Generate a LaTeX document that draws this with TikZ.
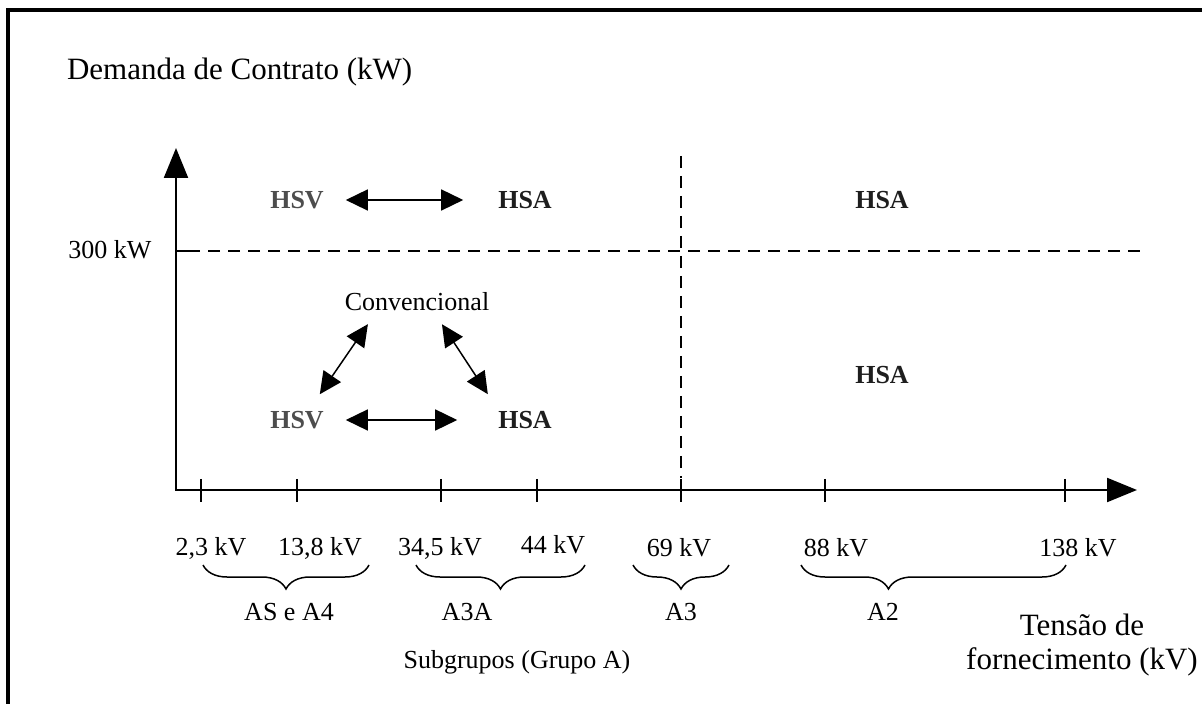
\documentclass[tikz,border=0pt]{standalone}
\usepackage{fontspec}
\setmainfont{Liberation Serif}
\usetikzlibrary{arrows.meta,decorations.pathreplacing}
\definecolor{hsvgray}{HTML}{4D4D4D}
\definecolor{hsadark}{HTML}{1E1E1E}

\begin{document}
\begin{tikzpicture}[x=0.5pt,y=-0.5pt,
  lbl/.style={font=\fontsize{13}{15}\selectfont},
  big/.style={font=\fontsize{15.5}{18}\selectfont},
  hsv/.style={font=\fontsize{13}{15}\selectfont\bfseries, text=hsvgray},
  hsa/.style={font=\fontsize{13}{15}\selectfont\bfseries, text=hsadark},
  twoway/.style={{Triangle[length=11pt,width=10.5pt]}-{Triangle[length=11pt,width=10.5pt]}, line width=0.75pt},
  guide/.style={dash pattern=on 6pt off 4pt, line width=1pt},
  brc/.style={decorate, decoration={brace, mirror, amplitude=12pt}, line width=0.75pt}]
\useasboundingbox (0,0) rectangle (1202,704);

  % Frame
  \draw[line width=1.6pt] (8,720) -- (8,10) -- (1220,10);

  % Draw the axes
  \draw[line width=1.1pt, {Triangle[length=15pt,width=12pt]}-{Triangle[length=15pt,width=12pt]}]
    (176,148) -- (176,490) -- (1137,490);
  \node[big, anchor=west] (dem) at (60,72) {Demanda de Contrato (kW)};

  % 300 kW limit
  \draw[line width=1.1pt] (176,251) -- (188,251);
  \node[lbl] (lim) at (110,250) {300 kW};
  \draw[guide] (188,251) -- (1140,251);
  \draw[guide] (681,156) -- (681,478);

  % Ticks on the voltage axis
  \foreach \x in {201,297,441,537,681,825,1065}
    \draw[line width=1.1pt] (\x,479) -- (\x,502);

  \node[lbl] (v1) at (211,548) {2,3 kV};
  \node[lbl] (v2) at (320,548) {13,8 kV};
  \node[lbl] (v3) at (440,548) {34,5 kV};
  \node[lbl] (v4) at (553,545) {44 kV};
  \node[lbl] (v5) at (679,548) {69 kV};
  \node[lbl] (v6) at (836,548) {88 kV};
  \node[lbl] (v7) at (1078,548) {138 kV};

  % Tariff options
  \node[hsv] (hsvA) at (297,200) {HSV};
  \node[hsa] (hsaA) at (525,200) {HSA};
  \node[hsa] (hsaB) at (882,200) {HSA};
  \node[lbl] (conv) at (417,302) {Convencional};
  \node[hsv] (hsvB) at (297,420) {HSV};
  \node[hsa] (hsaC) at (525,420) {HSA};
  \node[hsa] (hsaD) at (882,375) {HSA};

  \draw[twoway, shorten <=7.5pt, shorten >=14pt] (hsvA) -- (hsaA);
  \draw[twoway, shorten <=7.5pt, shorten >=17pt] (hsvB) -- (hsaC);
  \draw[twoway, shorten <=3.6pt, shorten >=6pt]
    ([xshift=-22.5pt]conv.south) -- ([xshift=8pt]hsvB.north);
  \draw[twoway, shorten <=3.6pt, shorten >=6pt]
    ([xshift=10.5pt]conv.south) -- ([xshift=-15.3pt]hsaC.north);

  % Subgroup braces
  \draw[brc] (203,565) -- (369,565);
  \draw[brc] (416,565) -- (585,565);
  \draw[brc] (633,565) -- (729,565);
  \draw[brc, decoration={aspect=0.33}] (801,565) -- (1066,565);

  \node[lbl] (gA4) at (289,612) {AS e A4};
  \node[lbl] (gA3A) at (467,612) {A3A};
  \node[lbl] (gA3) at (681,612) {A3};
  \node[lbl] (gA2) at (883,612) {A2};
  \node[lbl] (sub) at (517,662) {Subgrupos (Grupo A)};
  \node[big, align=center] (tens) at (1082,645) {Tensão de\\[-1pt]fornecimento (kV)};
\end{tikzpicture}
\end{document}
